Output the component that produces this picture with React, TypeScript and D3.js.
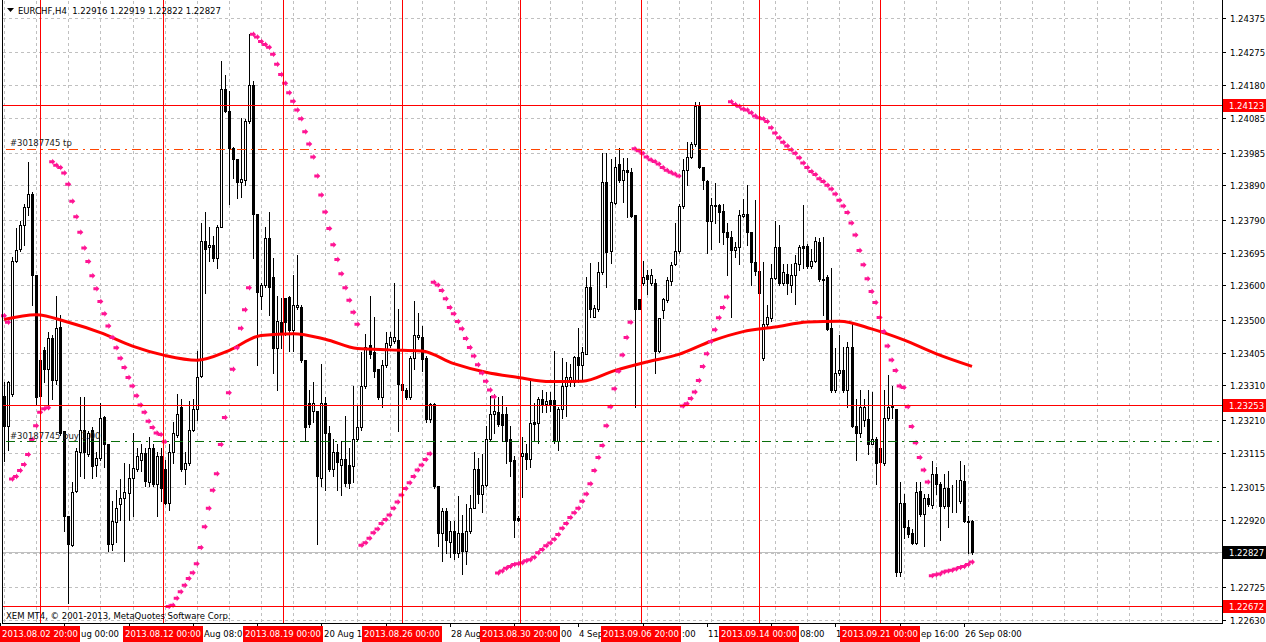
import React from 'react';
import * as d3 from 'd3';

// EURCHF H4, 1 Aug - 26 Sep 2013
const opens = [
  1.2328, 1.23193, 1.23286, 1.23672, 1.23705, 1.23776, 1.23828, 1.23865, 1.23629, 1.23384,
  1.23413, 1.23357, 1.23446, 1.23326, 1.2348, 1.23177, 1.22932, 1.22848, 1.23003, 1.23117,
  1.23182, 1.23112, 1.23182, 1.23079, 1.23101, 1.23217, 1.23141, 1.22851, 1.22913, 1.22965,
  1.22984, 1.22997, 1.23041, 1.23068, 1.23095, 1.23115, 1.2303, 1.23128, 1.23025, 1.23106,
  1.23068, 1.2297, 1.23117, 1.23166, 1.23248, 1.23068, 1.23085, 1.23182, 1.23242, 1.23337,
  1.23729, 1.2371, 1.23716, 1.23678, 1.2377, 1.2417, 1.24104, 1.23999, 1.23966, 1.23901,
  1.23906, 1.24075, 1.24182, 1.23808, 1.23569, 1.23602, 1.23738, 1.23623, 1.23417, 1.23493,
  1.23564, 1.23566, 1.23471, 1.23538, 1.23538, 1.23384, 1.23259, 1.23237, 1.23237, 1.23043,
  1.23259, 1.23172, 1.23068, 1.23117, 1.23079, 1.23098, 1.23079, 1.23076, 1.23155, 1.23188,
  1.23308, 1.23427, 1.23406, 1.23357, 1.23275, 1.23368, 1.23427, 1.23438, 1.23442, 1.23315,
  1.23297, 1.23275, 1.23389, 1.23449, 1.23451, 1.23389, 1.23213, 1.23257, 1.23019, 1.22883,
  1.22945, 1.22856, 1.22889, 1.22823, 1.22883, 1.22829, 1.22889, 1.22956, 1.23068, 1.22995,
  1.23021, 1.23155, 1.23226, 1.23232, 1.23228, 1.23228, 1.23155, 1.23093, 1.22927, 1.23106,
  1.23115, 1.23098, 1.23204, 1.23202, 1.2327, 1.23257, 1.23267, 1.23267, 1.2315, 1.23242,
  1.23308, 1.23319, 1.23319, 1.23392, 1.23368, 1.23402, 1.23596, 1.23509, 1.23531, 1.23638,
  1.23901, 1.237, 1.23839, 1.23953, 1.23906, 1.23934, 1.23928, 1.23803, 1.23561, 1.23607,
  1.23629, 1.23607, 1.23607, 1.23411, 1.23529, 1.23558, 1.23612, 1.23661, 1.237, 1.2383,
  1.23934, 1.23972, 1.2401, 1.24121, 1.23944, 1.23903, 1.23787, 1.23832, 1.23832, 1.23816,
  1.23754, 1.2374, 1.23703, 1.2371, 1.23801, 1.23808, 1.23754, 1.23667, 1.23642, 1.23389,
  1.23487, 1.23504, 1.23622, 1.23712, 1.23607, 1.23633, 1.23602, 1.23629, 1.23661, 1.23713,
  1.23713, 1.23656, 1.23672, 1.23727, 1.23618, 1.23624, 1.23476, 1.23297, 1.23346, 1.23355,
  1.23297, 1.2342, 1.23193, 1.23172, 1.2321, 1.23213, 1.23141, 1.23155, 1.2313, 1.23085,
  1.23215, 1.23248, 1.23242, 1.22769, 1.2297, 1.229, 1.22883, 1.22854, 1.23003, 1.22938,
  1.22984, 1.22963, 1.23052, 1.23025, 1.22959, 1.23014, 1.22976, 1.22974, 1.22974, 1.23032,
  1.22916, 1.22916,
];
const highs = [
  1.23319, 1.23324, 1.23681, 1.23765, 1.23787, 1.23836, 1.23958, 1.23872, 1.23629, 1.23389,
  1.23422, 1.23466, 1.23455, 1.23569, 1.23515, 1.23177, 1.22932, 1.2303, 1.23128, 1.23275,
  1.23275, 1.23177, 1.23188, 1.23117, 1.23259, 1.23221, 1.23141, 1.22976, 1.23008, 1.23039,
  1.23085, 1.23081, 1.23172, 1.23128, 1.23139, 1.23128, 1.23161, 1.23139, 1.23117, 1.23128,
  1.23095, 1.23139, 1.23204, 1.23286, 1.2327, 1.23117, 1.23264, 1.2327, 1.23411, 1.23781,
  1.23814, 1.2377, 1.23743, 1.23776, 1.24251, 1.24211, 1.24162, 1.24, 1.23966, 1.24086,
  1.24081, 1.24328, 1.24193, 1.23808, 1.23607, 1.2377, 1.23814, 1.23678, 1.23569, 1.23564,
  1.23564, 1.23569, 1.23629, 1.23689, 1.23542, 1.23384, 1.23297, 1.23319, 1.23237, 1.23373,
  1.23275, 1.23193, 1.23155, 1.23139, 1.2315, 1.23221, 1.23128, 1.23308, 1.23253, 1.23406,
  1.2346, 1.23569, 1.23509, 1.23357, 1.23384, 1.23466, 1.23466, 1.23607, 1.23531, 1.23368,
  1.23302, 1.23395, 1.23555, 1.2352, 1.23482, 1.23395, 1.23259, 1.23259, 1.23019, 1.22954,
  1.22954, 1.22916, 1.22916, 1.22989, 1.22934, 1.22965, 1.22992, 1.23117, 1.23101, 1.23112,
  1.23193, 1.2328, 1.23286, 1.23275, 1.2328, 1.23248, 1.23193, 1.23106, 1.22932, 1.23161,
  1.23139, 1.23324, 1.23259, 1.23275, 1.23297, 1.23291, 1.23291, 1.23411, 1.23248, 1.23389,
  1.23378, 1.23373, 1.23395, 1.23476, 1.23422, 1.23623, 1.23664, 1.23542, 1.23667, 1.23983,
  1.23983, 1.23966, 1.23972, 1.23997, 1.23968, 1.23968, 1.23939, 1.23803, 1.23561, 1.23672,
  1.23645, 1.23647, 1.23618, 1.23504, 1.23564, 1.23623, 1.23667, 1.23781, 1.23836, 1.23966,
  1.24015, 1.24015, 1.24132, 1.24132, 1.23944, 1.23906, 1.23852, 1.23896, 1.23836, 1.23836,
  1.23781, 1.23759, 1.23727, 1.23819, 1.23849, 1.2389, 1.23754, 1.23847, 1.23642, 1.23667,
  1.23542, 1.23661, 1.23787, 1.23776, 1.23661, 1.23661, 1.23661, 1.23689, 1.23716, 1.23833,
  1.23721, 1.23705, 1.2374, 1.23738, 1.2374, 1.23629, 1.23651, 1.23417, 1.23455, 1.23422,
  1.23435, 1.23493, 1.2327, 1.23297, 1.2327, 1.23297, 1.23291, 1.23161, 1.2315, 1.23297,
  1.2334, 1.23308, 1.23242, 1.2303, 1.22995, 1.22921, 1.22894, 1.2303, 1.2303, 1.22995,
  1.22995, 1.2309, 1.23074, 1.2303, 1.23052, 1.23063, 1.23021, 1.23036, 1.2309, 1.23079,
  1.22932, 1.22919,
];
const lows = [
  1.2309, 1.23123, 1.2328, 1.23667, 1.237, 1.23716, 1.23803, 1.23542, 1.23253, 1.23253,
  1.23319, 1.23242, 1.23272, 1.23315, 1.23166, 1.22889, 1.2268, 1.22845, 1.23, 1.23046,
  1.23041, 1.23106, 1.23041, 1.23046, 1.23095, 1.23074, 1.22829, 1.22834, 1.22856, 1.22921,
  1.22802, 1.22921, 1.22932, 1.23063, 1.23063, 1.23019, 1.23019, 1.23019, 1.22932, 1.22976,
  1.22965, 1.22949, 1.23085, 1.23161, 1.23063, 1.23025, 1.23079, 1.23177, 1.2321, 1.23335,
  1.23577, 1.23672, 1.23672, 1.23651, 1.23768, 1.24102, 1.23836, 1.23912, 1.23852, 1.23857,
  1.2389, 1.2407, 1.23678, 1.23368, 1.23531, 1.23596, 1.23515, 1.23346, 1.23297, 1.23417,
  1.23455, 1.23411, 1.23411, 1.23531, 1.23378, 1.2315, 1.23188, 1.23204, 1.22851, 1.23019,
  1.23008, 1.23063, 1.23046, 1.23008, 1.22992, 1.23019, 1.23014, 1.2303, 1.2315, 1.23182,
  1.23302, 1.23389, 1.23335, 1.2327, 1.23248, 1.23362, 1.23422, 1.23433, 1.23177, 1.23215,
  1.2327, 1.2327, 1.23357, 1.23444, 1.23351, 1.23204, 1.23204, 1.23014, 1.22845, 1.22802,
  1.22823, 1.22812, 1.22807, 1.22812, 1.22763, 1.22791, 1.22883, 1.22954, 1.2297, 1.22943,
  1.23019, 1.23152, 1.23172, 1.23193, 1.2315, 1.23085, 1.23046, 1.22872, 1.22916, 1.22987,
  1.23068, 1.23074, 1.2315, 1.23144, 1.23232, 1.23232, 1.23237, 1.23144, 1.23123, 1.23215,
  1.23221, 1.23308, 1.23308, 1.23319, 1.23329, 1.234, 1.23509, 1.23507, 1.23525, 1.23634,
  1.23594, 1.23664, 1.23836, 1.23901, 1.23841, 1.23798, 1.23798, 1.23248, 1.23531, 1.23602,
  1.23574, 1.23602, 1.23346, 1.23406, 1.23504, 1.23553, 1.23602, 1.23659, 1.23694, 1.23825,
  1.2389, 1.23968, 1.24005, 1.23939, 1.23879, 1.23694, 1.23705, 1.23781, 1.23727, 1.23721,
  1.23629, 1.23509, 1.23683, 1.23661, 1.23798, 1.23716, 1.23602, 1.23629, 1.23569, 1.23385,
  1.23482, 1.23498, 1.23618, 1.23602, 1.23602, 1.23574, 1.2358, 1.23547, 1.23645, 1.23651,
  1.23651, 1.23651, 1.23667, 1.23612, 1.23515, 1.23471, 1.23292, 1.23292, 1.2334, 1.23292,
  1.23248, 1.23188, 1.23095, 1.23161, 1.23193, 1.23112, 1.23139, 1.23025, 1.23085, 1.23079,
  1.2321, 1.23215, 1.22758, 1.22758, 1.22867, 1.22872, 1.22851, 1.22851, 1.22932, 1.22845,
  1.22959, 1.22954, 1.22995, 1.22861, 1.22954, 1.229, 1.22943, 1.22943, 1.2297, 1.22913,
  1.22823, 1.22822,
];
const closes = [
  1.23193, 1.23319, 1.23672, 1.23703, 1.23776, 1.23828, 1.23865, 1.23629, 1.23275, 1.2328,
  1.23357, 1.23446, 1.23326, 1.23476, 1.23172, 1.22932, 1.22851, 1.23, 1.23119, 1.23182,
  1.23117, 1.23172, 1.23076, 1.23101, 1.23215, 1.23141, 1.22851, 1.22916, 1.22956, 1.22984,
  1.23, 1.23043, 1.2307, 1.23106, 1.23115, 1.23032, 1.2313, 1.23025, 1.23106, 1.23014,
  1.2297, 1.23117, 1.23172, 1.23226, 1.23068, 1.23085, 1.23182, 1.23242, 1.23335, 1.23729,
  1.23705, 1.23716, 1.23678, 1.2377, 1.2417, 1.24104, 1.23999, 1.23966, 1.23901, 1.23907,
  1.24077, 1.24182, 1.23808, 1.2358, 1.23602, 1.23738, 1.23596, 1.23417, 1.23496, 1.2346,
  1.23493, 1.23471, 1.23542, 1.23544, 1.23384, 1.23188, 1.23199, 1.23259, 1.23046, 1.23259,
  1.23172, 1.23068, 1.23117, 1.23087, 1.23098, 1.23028, 1.23028, 1.23155, 1.23188, 1.23308,
  1.23422, 1.234, 1.23351, 1.23275, 1.23368, 1.23433, 1.23449, 1.23449, 1.23313, 1.23297,
  1.23275, 1.23389, 1.23457, 1.23455, 1.23386, 1.23213, 1.23257, 1.23019, 1.22883, 1.22945,
  1.22861, 1.22889, 1.22823, 1.22883, 1.22829, 1.22889, 1.22956, 1.23068, 1.22995, 1.23021,
  1.23155, 1.23226, 1.23237, 1.23199, 1.23196, 1.2315, 1.2309, 1.22921, 1.22919, 1.23115,
  1.23098, 1.23202, 1.23199, 1.2327, 1.23253, 1.23264, 1.23253, 1.2315, 1.23242, 1.23308,
  1.23335, 1.23335, 1.23392, 1.23368, 1.23406, 1.23596, 1.23531, 1.23533, 1.23638, 1.23901,
  1.23696, 1.23841, 1.23942, 1.23906, 1.23934, 1.23928, 1.23801, 1.23531, 1.23531, 1.23623,
  1.23618, 1.23629, 1.23411, 1.23504, 1.23561, 1.23615, 1.23659, 1.237, 1.2383, 1.23934,
  1.23972, 1.2401, 1.24121, 1.23944, 1.23906, 1.23787, 1.23832, 1.2383, 1.23814, 1.23754,
  1.2374, 1.23703, 1.2371, 1.23803, 1.23808, 1.23754, 1.23667, 1.23642, 1.23577, 1.23487,
  1.23509, 1.23622, 1.23712, 1.23607, 1.23638, 1.23607, 1.23629, 1.23664, 1.2371, 1.23707,
  1.23656, 1.23672, 1.23729, 1.23618, 1.23616, 1.23474, 1.23297, 1.23346, 1.23355, 1.23297,
  1.2342, 1.23193, 1.23172, 1.23246, 1.23248, 1.23141, 1.23155, 1.23085, 1.23087, 1.23215,
  1.23248, 1.2325, 1.22769, 1.2297, 1.229, 1.22878, 1.22854, 1.23, 1.22938, 1.22984,
  1.22965, 1.23052, 1.23025, 1.22959, 1.23014, 1.22959, 1.22974, 1.22976, 1.23036, 1.22916,
  1.22914, 1.22827,
];

// Parabolic SAR, one value per bar
const sar = [
  1.23512, 1.23493, 1.23039, 1.23046, 1.23063, 1.23081, 1.2311, 1.23153, 1.23193, 1.23232,
  1.23242, 1.23245, 1.23958, 1.23948, 1.23942, 1.23926, 1.23893, 1.23844, 1.23799, 1.23754,
  1.23708, 1.23669, 1.23628, 1.2359, 1.23553, 1.23518, 1.23482, 1.23449, 1.23419, 1.23389,
  1.23362, 1.23333, 1.23308, 1.2328, 1.23253, 1.23232, 1.23206, 1.23188, 1.23172, 1.23168,
  1.23147, 1.22669, 1.22673, 1.22693, 1.22712, 1.22731, 1.2275, 1.22767, 1.22793, 1.2284,
  1.229, 1.22954, 1.23006, 1.23054, 1.23139, 1.23217, 1.23289, 1.23357, 1.23419, 1.23476,
  1.23529, 1.23593, 1.24328, 1.2432, 1.24307, 1.24298, 1.2429, 1.2427, 1.24241, 1.24211,
  1.24186, 1.24158, 1.24134, 1.24108, 1.24083, 1.24045, 1.2401, 1.23972, 1.23917, 1.23862,
  1.23813, 1.23765, 1.23718, 1.23675, 1.23634, 1.23593, 1.23557, 1.23522, 1.23487, 1.22847,
  1.22854, 1.22867, 1.22883, 1.22894, 1.2291, 1.22921, 1.22934, 1.22954, 1.22972, 1.22992,
  1.23011, 1.23028, 1.23046, 1.23065, 1.23079, 1.23095, 1.23112, 1.23609, 1.23601, 1.23585,
  1.23561, 1.23536, 1.23518, 1.23495, 1.23474, 1.23446, 1.2342, 1.23395, 1.2337, 1.23346,
  1.23322, 1.23297, 1.23277, 1.22766, 1.22772, 1.2278, 1.22785, 1.22791, 1.22793, 1.22796,
  1.22802, 1.22805, 1.22812, 1.22825, 1.22834, 1.22845, 1.22853, 1.22864, 1.22878, 1.22896,
  1.2291, 1.22927, 1.22941, 1.22954, 1.22974, 1.22995, 1.23025, 1.23063, 1.23101, 1.23136,
  1.23193, 1.23248, 1.233, 1.23351, 1.23398, 1.23449, 1.23493, 1.23996, 1.2399, 1.23983,
  1.23972, 1.23964, 1.23959, 1.23952, 1.23942, 1.23934, 1.23928, 1.23923, 1.23917, 1.2325,
  1.23257, 1.23272, 1.23291, 1.23324, 1.23365, 1.23402, 1.23437, 1.23471, 1.23506, 1.23536,
  1.23566, 1.24132, 1.24124, 1.24119, 1.24111, 1.24108, 1.241, 1.24091, 1.24086, 1.24083,
  1.24075, 1.24057, 1.24042, 1.24028, 1.24015, 1.24004, 1.23993, 1.23983, 1.2397, 1.23955,
  1.23942, 1.2393, 1.23921, 1.23909, 1.23901, 1.2389, 1.23879, 1.23865, 1.23847, 1.2383,
  1.23811, 1.23781, 1.23746, 1.23701, 1.2366, 1.23619, 1.23582, 1.2355, 1.23507, 1.23466,
  1.23424, 1.23384, 1.23353, 1.23308, 1.23304, 1.23248, 1.23191, 1.23144, 1.23101, 1.23065,
  1.2303, 1.22758, 1.22761, 1.22763, 1.22769, 1.22772, 1.22774, 1.22778, 1.22782, 1.22785,
  1.22791, 1.22798,
];

// moving average, sampled every 8 bars
const maBars = [0, 8, 16, 24, 32, 40, 48, 56, 64, 72, 80, 88, 96, 104, 112, 120, 128, 136, 144, 152, 160, 168, 176, 184, 192, 200, 208, 216, 224, 232, 241];
const maValues = [
  1.23501, 1.23515, 1.23493, 1.23463, 1.23424, 1.23397, 1.23383, 1.23411, 1.23455, 1.2346,
  1.23444, 1.23417, 1.23413, 1.2341, 1.23373, 1.23348, 1.23333, 1.23321, 1.23322, 1.23353,
  1.23378, 1.234, 1.23438, 1.23466, 1.23479, 1.23494, 1.23496, 1.23474, 1.23442, 1.23402,
  1.23365,
];

const priceTicks = [1.24375, 1.24275, 1.2418, 1.24085, 1.23985, 1.2389, 1.2379, 1.23695, 1.236, 1.235, 1.23405, 1.2331, 1.2321, 1.23115, 1.23015, 1.2292, 1.22825, 1.22725, 1.2263];
const timeLabelBars = [-1, 15, 31, 47, 63, 79, 95, 111, 127, 143, 159, 175, 191, 207, 223, 239];
// the part of each time label that is not hidden by the red date boxes
const timeLabelsShown = ['', 'ug 00:00', '', 'Aug 08:0', '', '20 Aug 1', '', '28 Aug', '00', '4 Sep', ':00', '11', '08:00', '1', 'ep 16:00', '26 Sep 08:00'];

const vLineBars = [9, 39.5, 69.5, 99, 128.5, 158.5, 188, 218];
const vLineLabels = ['2013.08.02 20:00', '2013.08.12 00:00', '2013.08.19 00:00', '2013.08.26 00:00', '2013.08.30 20:00', '2013.09.06 20:00', '2013.09.14 00:00', '2013.09.21 00:00'];
const hLines = [1.24123, 1.23253, 1.22672];
const tpPrice = 1.23995;
const buyPrice = 1.23149;
const bidPrice = 1.22827;

const W = 1266;
const H = 642;
const right = 1222;
const bottom = 623;
const boxW = 80;
const font = "'DejaVu Sans', sans-serif";

const App: React.FC = () => {
  const x = d3.scaleLinear().domain([0, closes.length - 1]).range([4, 972]);
  const y = d3.scaleLinear().domain([1.2263, 1.24375]).range([620, 18]);
  const px = (i: number) => Math.round(x(i));
  const py = (p: number) => Math.round(y(p));

  const gridBars = d3.range(0, 400, 8).filter((b) => x(b) < right - 1);

  const maLine = d3
    .line<number>()
    .x((d, i) => x(maBars[i]))
    .y((d) => y(d))
    .curve(d3.curveMonotoneX)(maValues);

  // small right-pointing arrow used by MT4 for the SAR dots
  const arrow = (cx: number, cy: number) =>
    `M${cx - 3},${cy - 1.5}h3v-1.5l3,3l-3,3v-1.5h-3z`;

  const boxes = vLineBars.map((b) => {
    const left = Math.max(px(b) - boxW / 2, 0);
    return { left, right: left + boxW };
  });

  const labelX = (bar: number) => {
    let tx = px(bar) + 1;
    const cover = boxes.find((b) => b.left <= tx && tx < b.right);
    if (cover) tx = cover.right + 1;
    return tx;
  };

  const priceBox = (p: number, fill: string, key: string) => (
    <g key={key}>
      <rect x={right + 1} y={py(p) - 6} width={W - right - 1} height={13} fill={fill} />
      <text x={right + 7} y={py(p) + 4} fill="#fff" fontSize={8.5} fontFamily={font}>
        {p.toFixed(5)}
      </text>
    </g>
  );

  return (
    <svg
      width={W}
      height={H}
      style={{ position: 'absolute', left: 0, top: 0, background: '#fff' }}
    >
      <rect x={0} y={0} width={W} height={H} fill="#fff" />

      {/* grid */}
      <g stroke="#c0c0c0" strokeDasharray="3,3" shapeRendering="crispEdges">
        {priceTicks.map((t) => (
          <line key={t} x1={3} x2={right - 1} y1={py(t) + 0.5} y2={py(t) + 0.5} />
        ))}
        {gridBars.map((b) => (
          <line key={b} x1={px(b) + 0.5} x2={px(b) + 0.5} y1={1} y2={bottom - 1} />
        ))}
      </g>

      {/* bid line */}
      <line x1={3} x2={right} y1={py(bidPrice) + 0.5} y2={py(bidPrice) + 0.5} stroke="#c0c0c0" shapeRendering="crispEdges" />

      {/* candles */}
      <g shapeRendering="crispEdges">
        {closes.map((c, i) => {
          const o = opens[i];
          const cx = px(i);
          const top = py(Math.max(o, c));
          const bot = py(Math.min(o, c));
          return (
            <g key={i}>
              <line x1={cx + 0.5} x2={cx + 0.5} y1={py(highs[i])} y2={py(lows[i]) + 1} stroke="#000" />
              <rect
                x={cx - 0.5}
                y={top + 0.5}
                width={2}
                height={Math.max(bot - top, 0)}
                fill={c >= o ? '#fff' : '#000'}
                stroke="#000"
              />
            </g>
          );
        })}
      </g>

      {/* moving average */}
      <path d={maLine ?? ''} fill="none" stroke="#ff0000" strokeWidth={3} />

      {/* parabolic SAR */}
      <g fill="#ff1493">
        {sar.map((s, i) => (
          <path key={i} d={arrow(x(i), y(s))} />
        ))}
      </g>

      {/* objects */}
      <g shapeRendering="crispEdges">
        {vLineBars.map((b) => (
          <line key={b} x1={px(b) + 0.5} x2={px(b) + 0.5} y1={0} y2={bottom} stroke="#ff0000" />
        ))}
        {hLines.map((p) => (
          <line key={p} x1={3} x2={right} y1={py(p) + 0.5} y2={py(p) + 0.5} stroke="#ff0000" />
        ))}
        <line x1={6} x2={right} y1={py(tpPrice) + 0.5} y2={py(tpPrice) + 0.5} stroke="#ff4500" strokeDasharray="9,5,2,5" />
        <line x1={6} x2={right} y1={py(buyPrice) + 0.5} y2={py(buyPrice) + 0.5} stroke="#0a6e0a" strokeDasharray="9,5,2,5" />
      </g>
      <text x={10} y={py(tpPrice) - 3} fontSize={8.5} fontFamily={font} fill="#222">
        #30187745 tp
      </text>
      <text x={10} y={py(buyPrice) - 2} fontSize={8.5} fontFamily={font} fill="#222">
        #30187745 buy 1.00
      </text>

      {/* frame and axes */}
      <g stroke="#000" shapeRendering="crispEdges">
        <line x1={2.5} x2={2.5} y1={0} y2={bottom} />
        <line x1={2} x2={right + 1} y1={bottom + 0.5} y2={bottom + 0.5} />
        <line x1={right + 0.5} x2={right + 0.5} y1={0} y2={bottom + 1} />
        {priceTicks.map((t) => (
          <line key={t} x1={right} x2={right + 4} y1={py(t) + 0.5} y2={py(t) + 0.5} />
        ))}
        {timeLabelBars.map((b) => (
          <line key={b} x1={px(b) + 0.5} x2={px(b) + 0.5} y1={bottom} y2={bottom + 4} />
        ))}
      </g>
      <g fontSize={8.5} fontFamily={font} fill="#000">
        {priceTicks.map((t) => (
          <text key={t} x={right + 8} y={py(t) + 4}>
            {t.toFixed(5)}
          </text>
        ))}
        {timeLabelsShown.map((t, i) =>
          t ? (
            <text key={i} x={labelX(timeLabelBars[i])} y={bottom + 14}>
              {t}
            </text>
          ) : null
        )}
      </g>

      {/* date boxes of the vertical lines */}
      {vLineBars.map((b, i) => (
        <g key={b}>
          <rect x={boxes[i].left} y={bottom + 3} width={boxW} height={16} fill="#ff0000" />
          <text
            x={boxes[i].left + boxW / 2}
            y={bottom + 14}
            textAnchor="middle"
            fontSize={8.5}
            fontFamily={font}
            fill="#fff"
          >
            {vLineLabels[i]}
          </text>
        </g>
      ))}

      {/* price boxes */}
      {hLines.map((p) => priceBox(p, '#ff0000', String(p)))}
      {priceBox(bidPrice, '#000', 'bid')}

      {/* header and copyright */}
      <path d="M7,8h7l-3.5,4z" fill="#000" />
      <text x={18} y={14} fontSize={8.5} fontFamily={font} fill="#000">
        EURCHF,H4{'\u00a0\u00a0'}1.22916 1.22919 1.22822 1.22827
      </text>
      <text x={6} y={619} fontSize={8.5} fontFamily={font} fill="#000">
        XEM MT4, © 2001-2013, MetaQuotes Software Corp.
      </text>
    </svg>
  );
};

export default App;
